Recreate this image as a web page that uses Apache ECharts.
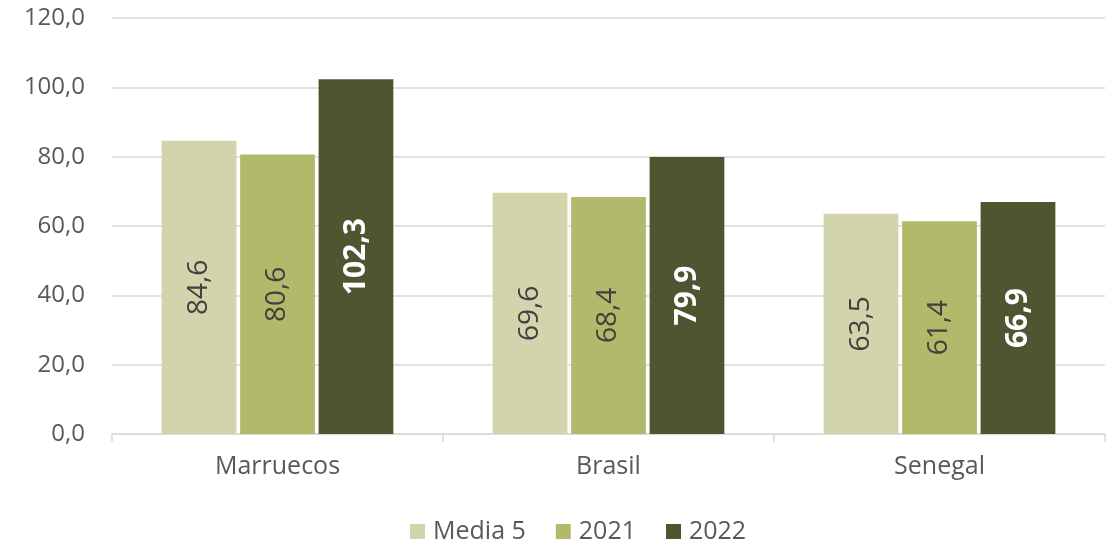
<!DOCTYPE html>
<html><head><meta charset="utf-8">
<script src="https://cdn.jsdelivr.net/npm/echarts@6/dist/echarts.min.js"></script>
<style>html,body{margin:0;padding:0;background:#fff}#c{width:1114px;height:543px}</style>
</head><body><div id="c"></div>
<script>
const categories = ['Marruecos', 'Brasil', 'Senegal'];
const seriesNames = ['Media 5', '2021', '2022'];
const media5 = [84.6, 69.6, 63.5];
const y2021 = [80.6, 68.4, 61.4];
const y2022 = [102.3, 79.9, 66.9];
const colors = ['#D2D5AB', '#B2B96A', '#4F5431'];
const FONT = 'Open Sans';
const fmt = v => v.toFixed(1).replace('.', ',');
const chart = echarts.init(document.getElementById('c'));
function mk(name, data, color, labelColor, bold) {
  return {
    name, type: 'bar', data, barGap: '5%', barCategoryGap: '30%',
    itemStyle: { color },
    label: {
      show: true, position: 'inside', rotate: 90,
      formatter: p => fmt(p.value),
      color: labelColor, fontSize: bold ? 30 : 28, fontFamily: FONT,
      fontWeight: bold ? 'bold' : 'normal'
    }
  };
}
chart.setOption({
  animation: false,
  textStyle: { fontFamily: FONT },
  grid: { left: 112, right: 9, top: 18, bottom: 109 },
  legend: {
    left: 405, bottom: -6, itemWidth: 15, itemHeight: 15, itemGap: 30,
    icon: 'rect',
    textStyle: { fontSize: 25, color: '#595959', fontFamily: FONT, padding: [0, 0, 0, 3] },
    data: seriesNames
  },
  xAxis: {
    type: 'category', data: categories,
    axisLine: { lineStyle: { color: '#D9D9D9', width: 1.5 } },
    axisTick: { show: true, length: 8, lineStyle: { color: '#D9D9D9', width: 1.5 } },
    axisLabel: { fontSize: 25, color: '#595959', margin: 20, fontFamily: FONT }
  },
  yAxis: {
    type: 'value', min: 0, max: 120, interval: 20,
    axisLine: { show: false }, axisTick: { show: false },
    splitLine: { lineStyle: { color: '#D9D9D9', width: 1.5 } },
    axisLabel: { fontSize: 24, color: '#595959', margin: 27, formatter: v => fmt(v), fontFamily: FONT }
  },
  series: [
    mk(seriesNames[0], media5, colors[0], '#404040', false),
    mk(seriesNames[1], y2021, colors[1], '#404040', false),
    mk(seriesNames[2], y2022, colors[2], '#FFFFFF', true)
  ]
});
</script></body></html>
